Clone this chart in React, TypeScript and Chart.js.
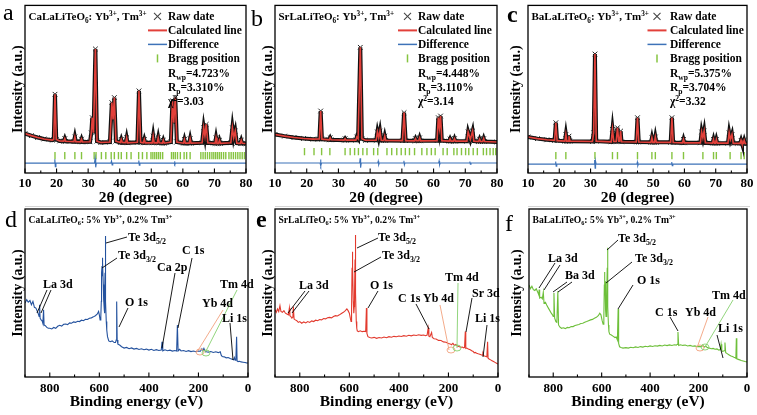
import React, { useEffect, useRef } from 'react';
import { Chart, registerables } from 'chart.js';

Chart.register(...registerables);

const W = 757;
const H = 415;
const SERIF = '"Liberation Serif", "Times New Roman", Times, serif';
const AXH = 28;

const RED = '#e2403a';
const BLUE = '#3d72b8';
const GREEN = '#86c440';
const XPS_BLUE = '#24529e';
const XPS_RED = '#e23a2e';
const XPS_GREEN = '#6dbf3a';
const ORANGE = '#f2a27e';
const LGREEN = '#86d06e';

// ---------------- XRD data (2θ, intensity in % of panel height) ----------------
const xrdMajorTicks = [10, 20, 30, 40, 50, 60, 70, 80];
const xrdMinorTicks = [15, 25, 35, 45, 55, 65, 75];

const aPattern = [[10,23.5],[12,22.3],[14,21.2],[16,20.3],[18.6,19.6],[19.1,20],[19.5,47],[19.9,20],[21,19.1],[22.3,19],[22.6,20.5],[22.9,18.9],[25.5,18.7],[25.8,21.5],[26.1,18.7],[27.6,18.6],[27.9,20.2],[28.2,18.5],[30.6,18.6],[31.0,24],[31.3,33],[31.7,24],[32.3,74],[32.8,19],[34,18.2],[36.9,18.5],[37.5,42],[37.9,32],[38.3,45],[38.8,19],[40.2,18.2],[40.5,20],[40.8,18.2],[41.9,18.1],[42.2,21],[42.5,18],[45.6,18.3],[46.1,49],[46.6,18.3],[47.5,18],[47.8,20],[48.1,18],[50.3,18],[50.6,22],[50.9,18],[51.9,18],[52.2,21],[52.5,18],[53.5,17.8],[53.8,19.5],[54.1,17.8],[56.2,18.5],[56.7,43],[57.1,30],[57.6,45],[58.1,18.5],[60.2,17.8],[60.5,20],[60.8,17.8],[62,17.8],[62.3,20.5],[62.6,17.8],[66.1,18],[66.6,27],[67.0,22],[67.4,29],[67.9,18],[70.2,17.7],[70.5,21],[70.8,17.7],[71.3,17.7],[71.6,19.5],[71.9,17.7],[75.2,18],[75.7,27],[76.1,21],[76.6,25],[77.1,17.8],[78.2,17.7],[78.5,19.5],[78.8,17.7],[80,17.6]];
const aDifference = [[10,5.9],[19.3,5.9],[19.45,8.2],[19.6,3.8],[19.8,5.9],[32.0,5.9],[32.2,8.6],[32.4,3.4],[32.6,5.9],[37.2,5.9],[37.4,7.2],[37.6,4.8],[37.8,5.9],[45.9,5.9],[46.05,7.4],[46.2,4.6],[46.4,5.9],[57.2,5.9],[57.35,7],[57.5,5],[57.7,5.9],[80,5.9]];
const aBragg = [19.5,22.6,25.8,27.9,31.9,32.5,34.2,35.6,37.3,38.3,39.6,40.5,42.2,43.6,46.0,47.2,48.6,49.9,50.5,51.1,51.7,52.3,52.9,53.6,56.4,57.0,57.6,58.3,59.2,60.4,61.2,62.3,65.7,66.4,67.1,67.8,68.5,69.2,69.8,70.4,71.0,71.6,72.2,72.9,73.6,74.6,75.3,76.0,76.7,77.4,78.1,78.8,79.5];
const aStats = ['R_{wp}=4.723%', 'R_{p}=3.310%', 'χ^{2}=3.03'];

const bPattern = [[10,23],[13,22],[16,21.2],[19,20.6],[22,20.2],[24.0,20.3],[24.4,37],[24.8,20.2],[27.1,19.8],[27.4,21],[27.7,19.8],[31.8,19.6],[32.1,20.5],[32.4,19.6],[35.5,19.6],[35.8,21.5],[36.2,20.5],[36.9,75],[37.4,20.5],[38.5,19.5],[41.9,19.5],[42.3,24.5],[42.7,21],[43.1,25],[43.5,19.5],[44.3,19.4],[44.6,22],[44.9,19.4],[50.2,19.3],[50.7,36],[51.2,19.3],[54.0,19.2],[54.3,20.5],[54.6,19.2],[55.3,19.2],[55.6,21],[55.9,19.2],[61.1,19.3],[61.5,33],[61.85,27],[62.2,34],[62.6,19.3],[64.9,19],[65.2,20.3],[65.5,19],[66.3,19],[66.6,20.5],[66.9,19],[70.5,19],[70.9,24.5],[71.6,20],[72.3,25],[72.7,19],[74.2,18.8],[74.5,20.2],[74.8,18.8],[75.5,18.8],[75.8,20.5],[76.1,18.8],[80,18.5]];
const bDifference = [[10,6],[24.2,6],[24.35,8],[24.5,4.2],[24.7,6],[36.7,6],[36.85,8.8],[37.0,3.2],[37.2,6],[42.4,6],[42.55,7],[42.7,5],[42.9,6],[50.5,6],[50.65,7.3],[50.8,4.8],[51.0,6],[61.6,6],[61.75,7.2],[61.9,4.8],[62.1,6],[71.3,6],[71.45,6.8],[71.6,5.2],[71.8,6],[80,6]];
const bBragg = [19.3,22.3,24.7,27.3,32.1,33.7,35.1,36.3,37.7,39.0,41.1,42.4,45.3,46.8,48.4,49.8,51.1,52.4,54.0,56.3,57.9,59.3,60.5,63.0,64.3,66.4,67.4,68.8,70.1,71.1,72.5,73.8,75.7,76.7,77.8,78.8,79.6];
const bStats = ['R_{wp}=4.448%', 'R_{p}=3.110%', 'χ^{2}=3.14'];

const cPattern = [[10,21.5],[13,20.5],[16,19.8],[18.5,19.5],[18.9,30],[19.3,19.3],[21.8,19],[22.1,23],[22.4,19],[22.8,19],[23.1,22],[23.4,19],[30.6,18.8],[31.0,24],[31.4,71],[31.8,19],[36.6,18.6],[37.0,26],[37.4,18.8],[38.2,18.8],[38.6,27],[39.0,19],[39.3,19],[39.6,25],[39.9,18.6],[44.6,18.5],[45.0,33],[45.4,18.5],[49.3,18.3],[49.6,21],[49.9,18.3],[50.4,18.3],[50.7,21.5],[51.0,18.3],[55.6,18.3],[56.0,33],[56.4,18.2],[59.4,18],[59.7,20],[60.0,18],[65.1,18],[65.5,24.5],[65.9,21],[66.3,25],[66.7,18],[69.0,17.8],[69.3,20],[69.6,17.8],[69.9,17.8],[70.2,20],[70.5,17.8],[73.9,17.8],[74.3,24],[74.7,20],[75.2,23],[75.6,17.7],[77.8,17.7],[78.1,19.5],[78.4,17.6],[78.8,17.6],[79.1,19.5],[79.4,17.6],[80,17.5]];
const cDifference = [[10,5.3],[18.7,5.3],[18.85,6.8],[19.0,4],[19.2,5.3],[31.1,5.3],[31.3,7.8],[31.45,2.8],[31.6,7],[31.8,5.3],[44.8,5.3],[44.95,6.5],[45.1,4.3],[45.3,5.3],[55.8,5.3],[55.95,6.5],[56.1,4.3],[56.3,5.3],[80,5.3]];
const cBragg = [18.9,22.1,31.4,37.0,38.6,45.0,49.6,50.7,56.0,59.7,65.9,69.3,70.2,74.6,78.1,79.1];
const cStats = ['R_{wp}=5.375%', 'R_{p}=3.704%', 'χ^{2}=3.32'];

const xrdLegendLabels = ['Raw date', 'Calculated line', 'Difference', 'Bragg position'];

// ---------------- XPS data (binding energy eV, intensity in % of panel height) ----------------
const xpsMajorTicks = [0, 200, 400, 600, 800];
const xpsMinorTicks = [100, 300, 500, 700, 900];

const dSpectrum = [[900,44],[893,46],[887,44.5],[880,45.5],[874,43],[868,45],[862,41.5],[856,41],[850,39],[846,37.5],[843,36],[841,43],[839,35],[835,34],[831,33.5],[828,32],[825,40],[823,31],[818,30.5],[812,29.5],[806,29],[800,29],[792,28.6],[784,29.5],[776,29],[768,30.2],[760,30.8],[752,30.3],[744,31.4],[736,31.5],[728,31.2],[720,32.2],[712,32],[704,32.8],[696,32.5],[688,33.2],[680,33],[672,33.8],[664,33.5],[656,34.3],[648,34.2],[640,35],[632,35.2],[624,35.8],[616,36.5],[608,37.5],[603,39],[600,37],[597,34],[594,36],[592,45],[591,62],[589,66],[588,71],[587,60],[586,68],[584,55],[583,50],[582,46],[580,40],[579,38],[578,50],[577,62],[576,84],[575,58],[574,45],[572,33],[570,28],[567,24],[562,21.5],[556,21],[548,21.5],[540,20.5],[535,20.5],[532,22],[530,45],[528,22],[525,19.5],[518,19],[510,18],[500,17.2],[490,17.6],[480,16.8],[470,17.3],[460,16.6],[450,17],[440,16.4],[430,16.8],[420,16.2],[410,16.6],[400,16],[390,16.5],[380,15.8],[370,16.3],[360,15.8],[350,16],[347,21],[344,15.6],[335,16.2],[325,15.6],[315,16],[305,15.4],[295,15.8],[288,15.5],[285,31],[282,15.5],[276,16.5],[270,15.5],[260,15.8],[250,15.2],[240,15.7],[230,15.1],[220,15.5],[210,15],[200,15.4],[192,15.3],[186,16.8],[182,15.8],[178,17],[174,15.5],[168,15],[160,14.8],[150,15.2],[140,14.6],[130,15],[120,14.5],[112,15],[108,13],[104,12.2],[96,12],[88,11.4],[80,11.6],[72,11],[64,10.6],[58,10.2],[55,11.5],[52,10],[49,10.2],[46,24],[44,9.6],[40,9.2],[34,9.4],[28,9],[20,8.8],[12,8.6],[6,8.4],[0,8.3]];

const eSpectrum = [[900,40],[895,38.5],[890,40.5],[885,39],[880,42.5],[876,39],[870,38.5],[864,39.5],[858,38],[852,37.5],[846,37],[842,41],[840,36.5],[836,36],[832,35],[828,35.5],[826,42],[823,34.5],[818,34],[812,33.5],[806,32.5],[800,33],[792,32],[784,32.8],[776,32.2],[768,33],[760,32.5],[752,33.4],[744,33],[736,33.8],[728,33.5],[720,34.2],[712,34],[704,34.8],[696,34.6],[688,35.3],[680,35.5],[672,35.2],[664,36],[656,36.5],[648,36.3],[640,37],[632,37.8],[624,38.5],[616,39.5],[610,40.5],[605,39.5],[600,38],[596,35],[593,33],[591,40],[589,65],[588,74.5],[587,58],[586,66],[584,45],[582,38],[580,42],[579,50],[577,70],[576,84.5],[575,62],[574,50],[572,33],[570,29],[568,27.5],[563,27],[556,27.5],[548,27],[540,27.2],[534,27],[531,41],[529,26],[525,24],[518,23.5],[510,23.2],[500,23.6],[490,23],[480,23.5],[470,23.2],[460,23.8],[450,23.4],[440,24],[430,23.7],[420,24.2],[410,24],[400,24.4],[390,24.1],[380,24.6],[370,24.3],[360,24.8],[350,24.5],[340,25],[330,24.7],[320,25.1],[310,24.8],[300,25],[292,24.6],[286,25],[282,29],[279,24.3],[275,24],[268,26.5],[265,23.5],[258,22.8],[250,22.6],[240,21.8],[230,21.7],[220,20.9],[210,20.7],[200,19.9],[193,19.7],[188,19.2],[182,20],[176,18.8],[170,19.4],[164,18.4],[158,18.2],[150,17.7],[144,17.8],[138,17.3],[135,17.6],[132,27],[130,17],[126,17.2],[120,16.6],[112,16.2],[106,15.6],[100,15.2],[96,14.4],[92,14.6],[86,14.1],[80,13.8],[74,13.6],[68,13.2],[64,13],[61,14],[58,12.7],[52,12.4],[48,12.2],[45,12],[42,21],[40,11.2],[36,10.7],[30,10.2],[24,9.7],[18,9.2],[12,8.7],[6,8.2],[0,7.7]];

const fSpectrum = [[900,54.8],[894,52.5],[888,54],[882,52],[876,51.5],[870,52.5],[864,50.5],[860,49],[858,52],[856,47],[850,47.5],[845,46.5],[841,50.5],[838,44],[832,44.5],[826,42.5],[820,41],[814,39.5],[808,38],[803,37],[800,36],[797,50],[794,35],[789,33],[785,32.5],[781,51],[778,31],[773,29.8],[766,29],[758,29.3],[750,28.8],[742,29.5],[734,29.3],[726,30],[718,30],[710,30.6],[702,31],[694,31.3],[686,31.8],[678,32],[670,32.6],[662,33],[654,33.5],[646,34],[638,34.3],[630,35],[622,35.5],[614,36.5],[608,38],[603,37],[598,33.5],[594,31.5],[591,36],[589,55],[588,62.5],[587,50],[586,57],[584,40],[582,36],[580,40],[579,48],[577,65],[576,77],[575,55],[574,42],[572,31],[570,27],[567,25.5],[560,25],[552,24.2],[545,23.5],[540,23.8],[535,22],[532,40.5],[530,20],[526,18],[520,17.5],[512,17.2],[500,17.5],[490,17.2],[480,17.7],[470,17.4],[460,17.9],[450,17.6],[440,18.1],[430,17.8],[420,18.3],[410,18],[400,18.5],[390,18.2],[380,18.6],[370,18.4],[360,18.8],[350,18.5],[340,19],[330,18.7],[320,19.1],[310,18.8],[300,19.2],[292,19],[288,19.4],[285,26.8],[282,18.8],[275,19.2],[265,18.8],[255,19],[245,18.5],[235,18.8],[225,18.3],[215,18.5],[205,18],[195,18.2],[188,18],[182,18.8],[176,17.8],[170,18.3],[164,17.5],[156,17.2],[148,16.8],[140,17],[132,16.5],[124,16.7],[116,16],[110,16.3],[107,19.5],[104,15.5],[100,15.3],[94,15.6],[91,20.5],[88,14.5],[84,14.2],[78,13.5],[72,13],[66,12.5],[60,12.2],[54,11.8],[49,11.5],[46,11.2],[44,23],[42,10.8],[36,10.5],[30,10.2],[24,9.8],[16,9.5],[8,9.2],[0,9]];

// ---------------- XPS annotations (layout, px relative to plot area) ----------------
const dNotes = [
  { text: 'Te 3d_{5/2}', x: 103, y: 28 },
  { text: 'Te 3d_{3/2}', x: 93, y: 46 },
  { text: 'C 1s', x: 157, y: 41 },
  { text: 'Ca 2p', x: 132, y: 58 },
  { text: 'La 3d', x: 18, y: 75 },
  { text: 'O 1s', x: 100, y: 93 },
  { text: 'Yb 4d', x: 177, y: 94 },
  { text: 'Tm 4d', x: 195, y: 75 },
  { text: 'Li 1s', x: 197, y: 109 },
];
const dLeaders = [
  [81, 34, 102, 28, '#000'], [77, 59, 92, 49, '#000'], [153, 119, 167, 49, '#000'], [137, 139, 150, 64, '#000'],
  [12, 104, 22, 81, '#000'], [16, 104, 26, 81, '#000'], [94, 118, 103, 99, '#000'],
  [172, 143, 198, 101, ORANGE], [180, 144, 212, 81, LGREEN], [208, 151, 205, 114, '#000'],
];
const dRings = [[175, 143, ORANGE], [181, 144, LGREEN]];

const eNotes = [
  { text: 'Te 3d_{5/2}', x: 103, y: 28 },
  { text: 'Te 3d_{3/2}', x: 107, y: 46 },
  { text: 'La 3d', x: 24, y: 76 },
  { text: 'O 1s', x: 95, y: 76 },
  { text: 'C 1s', x: 123, y: 89 },
  { text: 'Yb 4d', x: 148, y: 89 },
  { text: 'Tm 4d', x: 170, y: 68 },
  { text: 'Sr 3d', x: 197, y: 84 },
  { text: 'Li 1s', x: 200, y: 109 },
];
const eLeaders = [
  [82, 39, 103, 29, '#000'], [79, 63, 106, 48, '#000'], [13, 104, 30, 82, '#000'], [17, 104, 34, 82, '#000'],
  [93, 99, 103, 82, '#000'], [154, 120, 141, 95, '#000'], [174, 141, 165, 96, ORANGE], [182, 139, 183, 74, LGREEN],
  [191, 123, 197, 89, '#000'], [208, 148, 212, 116, '#000'],
];
const eRings = [[176, 141, ORANGE], [182, 139, LGREEN]];

const fNotes = [
  { text: 'Te 3d_{5/2}', x: 89, y: 29 },
  { text: 'Te 3d_{3/2}', x: 106, y: 49 },
  { text: 'La 3d', x: 19, y: 49 },
  { text: 'Ba 3d', x: 36, y: 66 },
  { text: 'O 1s', x: 108, y: 71 },
  { text: 'C 1s', x: 126, y: 103 },
  { text: 'Yb 4d', x: 156, y: 103 },
  { text: 'Tm 4d', x: 183, y: 86 },
  { text: 'Li 1s', x: 189, y: 119 },
];
const fLeaders = [
  [78, 41, 89, 31, '#000'], [77, 74, 103, 53, '#000'], [10, 79, 26, 54, '#000'], [15, 81, 31, 56, '#000'],
  [24, 83, 38, 73, '#000'], [29, 83, 43, 73, '#000'], [89, 100, 104, 76, '#000'], [149, 122, 141, 108, '#000'],
  [169, 136, 179, 108, ORANGE], [176, 138, 204, 91, LGREEN], [194, 149, 188, 126, '#000'],
];
const fRings = [[171, 139, ORANGE], [176, 138, LGREEN]];

// ---------------- panels ----------------
type Panel = any;

const PANELS: Panel[] = [
  { kind: 'xrd', letter: 'a', letterBold: false, lx: 3, ly: 20, box: [25, 4, 246, 173], ylabX: 18.5,
    title: 'CaLaLiTeO_{6}: Yb^{3+}, Tm^{3+}', pattern: aPattern, diff: aDifference, bragg: aBragg, braggLevel: 10.4,
    stats: aStats, legSym: 132.5, legText: 143 },
  { kind: 'xrd', letter: 'b', letterBold: false, lx: 251, ly: 26, box: [275, 4, 497, 173], ylabX: 268.5,
    title: 'SrLaLiTeO_{6}: Yb^{3+}, Tm^{3+}', pattern: bPattern, diff: bDifference, bragg: bBragg, braggLevel: 12.7,
    stats: bStats, legSym: 132.5, legText: 143 },
  { kind: 'xrd', letter: 'c', letterBold: true, lx: 507, ly: 22, box: [528, 4, 747, 173], ylabX: 516,
    title: 'BaLaLiTeO_{6}: Yb^{3+}, Tm^{3+}', pattern: cPattern, diff: cDifference, bragg: cBragg, braggLevel: 10.4,
    stats: cStats, legSym: 129, legText: 142 },
  { kind: 'xps', letter: 'd', letterBold: false, lx: 5, ly: 227, box: [25, 209, 248, 377], ylabX: 18,
    title: 'CaLaLiTeO_{6}: 5% Yb^{3+}, 0.2% Tm^{3+}', spectrum: dSpectrum, color: XPS_BLUE,
    notes: dNotes, leaders: dLeaders, rings: dRings },
  { kind: 'xps', letter: 'e', letterBold: true, lx: 256, ly: 227, box: [275, 209, 498, 377], ylabX: 268.5,
    title: 'SrLaLiTeO_{6}: 5% Yb^{3+}, 0.2% Tm^{3+}', spectrum: eSpectrum, color: XPS_RED,
    notes: eNotes, leaders: eLeaders, rings: eRings },
  { kind: 'xps', letter: 'f', letterBold: false, lx: 505, ly: 231, box: [529, 209, 747, 377], ylabX: 517.5,
    title: 'BaLaLiTeO_{6}: 5% Yb^{3+}, 0.2% Tm^{3+}', spectrum: fSpectrum, color: XPS_GREEN,
    notes: fNotes, leaders: fLeaders, rings: fRings },
];

// ---------------- text helpers ----------------
function fnt(size: number, weight = 'bold') {
  return `${weight} ${size}px ${SERIF}`;
}

function parseRich(s: string) {
  const out: { t: string; m: number }[] = [];
  let buf = '';
  let i = 0;
  while (i < s.length) {
    const c = s[i];
    if ((c === '_' || c === '^') && s[i + 1] === '{') {
      if (buf) { out.push({ t: buf, m: 0 }); buf = ''; }
      const j = s.indexOf('}', i);
      out.push({ t: s.slice(i + 2, j), m: c === '_' ? 1 : 2 });
      i = j + 1;
    } else {
      buf += c;
      i++;
    }
  }
  if (buf) out.push({ t: buf, m: 0 });
  return out;
}

function drawRich(ctx: CanvasRenderingContext2D, s: string, x: number, yMid: number, size: number, align = 'left') {
  const segs = parseRich(s);
  const sz = (m: number) => (m === 0 ? size : size * 0.66);
  let w = 0;
  for (const g of segs) { ctx.font = fnt(sz(g.m)); w += ctx.measureText(g.t).width; }
  let x0 = align === 'center' ? x - w / 2 : x;
  const base = yMid + size * 0.34;
  ctx.textAlign = 'left';
  ctx.textBaseline = 'alphabetic';
  for (const g of segs) {
    ctx.font = fnt(sz(g.m));
    const dy = g.m === 1 ? size * 0.22 : g.m === 2 ? -size * 0.4 : 0;
    ctx.fillText(g.t, x0, base + dy);
    x0 += ctx.measureText(g.t).width;
  }
}

function seg(ctx: CanvasRenderingContext2D, x1: number, y1: number, x2: number, y2: number) {
  ctx.beginPath();
  ctx.moveTo(x1, y1);
  ctx.lineTo(x2, y2);
  ctx.stroke();
}

function decorPlugin(p: Panel) {
  const isXrd = p.kind === 'xrd';
  const majors = isXrd ? xrdMajorTicks : xpsMajorTicks;
  const minors = isXrd ? xrdMinorTicks : xpsMinorTicks;
  return {
    id: 'decor',
    afterDatasetsDraw(chart: any) {
      const ctx: CanvasRenderingContext2D = chart.ctx;
      const ca = chart.chartArea;
      const xs = chart.scales.x;
      ctx.save();
      ctx.fillStyle = '#000';
      ctx.strokeStyle = '#000';
      ctx.lineWidth = 1.3;
      ctx.strokeRect(ca.left, ca.top, ca.right - ca.left, ca.bottom - ca.top);
      ctx.lineWidth = 1.1;
      for (const v of majors) { const x = xs.getPixelForValue(v); seg(ctx, x, ca.bottom, x, ca.bottom - 4.5); }
      for (const v of minors) { const x = xs.getPixelForValue(v); seg(ctx, x, ca.bottom, x, ca.bottom - 2.5); }
      ctx.font = fnt(24, p.letterBold ? 'bold' : 'normal');
      ctx.textAlign = 'left';
      ctx.textBaseline = 'alphabetic';
      ctx.fillText(p.letter, p.lx, p.ly);
      drawRich(ctx, p.title, ca.left + 3.5, ca.top + 11, isXrd ? 11 : 9.6);
      ctx.save();
      ctx.translate(p.ylabX, (ca.top + ca.bottom) / 2);
      ctx.rotate(-Math.PI / 2);
      ctx.font = fnt(14);
      ctx.textAlign = 'center';
      ctx.textBaseline = 'middle';
      ctx.fillText('Intensity (a.u.)', 0, 0);
      ctx.restore();
      ctx.font = fnt(15.5);
      ctx.textAlign = 'center';
      ctx.textBaseline = 'middle';
      ctx.fillText(isXrd ? '2θ (degree)' : 'Binding energy (eV)', (ca.left + ca.right) / 2, ca.bottom + 24.5);

      if (isXrd) {
        ctx.strokeStyle = '#d4d4d4';
        ctx.lineWidth = 1;
        seg(ctx, ca.left, 206.5, ca.right + 3, 206.5);
        const sx = ca.left + p.legSym;
        const tx = ca.left + p.legText;
        const rows = [11, 25, 39, 53, 68, 82, 96].map((v) => ca.top + v);
        ctx.strokeStyle = '#444';
        ctx.lineWidth = 1.1;
        seg(ctx, sx - 3.5, rows[0] - 3.5, sx + 3.5, rows[0] + 3.5);
        seg(ctx, sx - 3.5, rows[0] + 3.5, sx + 3.5, rows[0] - 3.5);
        ctx.strokeStyle = RED;
        ctx.lineWidth = 2;
        seg(ctx, sx - 9.5, rows[1], sx + 9.5, rows[1]);
        ctx.strokeStyle = BLUE;
        ctx.lineWidth = 1.5;
        seg(ctx, sx - 9.5, rows[2], sx + 9.5, rows[2]);
        ctx.strokeStyle = GREEN;
        ctx.lineWidth = 1.5;
        seg(ctx, sx, rows[3] - 4, sx, rows[3] + 4);
        ctx.fillStyle = '#000';
        const texts = [...xrdLegendLabels, ...p.stats];
        texts.forEach((t: string, i: number) => drawRich(ctx, t, tx, rows[i], 11.5));
      } else {
        for (const l of p.leaders) {
          ctx.strokeStyle = l[4];
          ctx.lineWidth = 0.9;
          seg(ctx, ca.left + l[0], ca.top + l[1], ca.left + l[2], ca.top + l[3]);
        }
        for (const r of p.rings) {
          ctx.strokeStyle = r[2];
          ctx.lineWidth = 0.9;
          ctx.beginPath();
          ctx.ellipse(ca.left + r[0], ca.top + r[1], 4, 3, 0, 0, Math.PI * 2);
          ctx.stroke();
        }
        ctx.fillStyle = '#000';
        for (const n of p.notes) drawRich(ctx, n.text, ca.left + n.x, ca.top + n.y, 12);
      }
      ctx.restore();
    },
  };
}

function buildConfig(p: Panel): any {
  const isXrd = p.kind === 'xrd';
  const toXY = (arr: number[][]) => arr.map(([x, y]) => ({ x, y }));
  const datasets = isXrd
    ? [
        { data: toXY(p.pattern), showLine: true, borderColor: RED, borderWidth: 1.6, pointRadius: 0, clip: 0 },
        { data: toXY(p.pattern), showLine: true, borderColor: '#111', borderWidth: 4, pointRadius: 3.3,
          pointStyle: 'crossRot', pointBorderColor: '#222', pointBorderWidth: 1, pointBackgroundColor: 'rgba(0,0,0,0)', clip: 0 },
        { data: toXY(p.diff), showLine: true, borderColor: BLUE, borderWidth: 1.1, pointRadius: 0, clip: 0 },
        { data: p.bragg.map((x: number) => ({ x, y: p.braggLevel })), showLine: false, pointStyle: 'line',
          pointRotation: 90, pointRadius: 3.6, pointBorderColor: GREEN, pointBorderWidth: 1.4, clip: 0 },
      ]
    : [
        { data: toXY(p.spectrum), showLine: true, borderColor: p.color, borderWidth: 1.1, pointRadius: 0, clip: 0 },
      ];
  const [L, T, R, B] = p.box;
  const majors = isXrd ? xrdMajorTicks : xpsMajorTicks;
  return {
    type: 'scatter',
    data: { datasets },
    options: {
      responsive: false,
      animation: false,
      devicePixelRatio: 1,
      events: [],
      layout: { padding: { left: L, top: T, right: W - R, bottom: H - B - AXH } },
      plugins: { legend: { display: false }, tooltip: { enabled: false } },
      scales: {
        x: {
          type: 'linear',
          min: isXrd ? 10 : 0,
          max: isXrd ? 80 : 900,
          reverse: !isXrd,
          afterBuildTicks: (axis: any) => { axis.ticks = majors.map((v) => ({ value: v })); },
          afterFit: (axis: any) => { axis.height = AXH; },
          grid: { display: false, drawTicks: false },
          border: { display: false },
          ticks: {
            autoSkip: false,
            maxRotation: 0,
            padding: isXrd ? 3 : 4,
            color: '#000',
            font: { family: SERIF, size: 13, weight: 'bold' },
          },
        },
        y: { display: false, min: 0, max: 100 },
      },
    },
    plugins: [decorPlugin(p)],
  };
}

export default function App() {
  const refs = useRef<(HTMLCanvasElement | null)[]>([]);
  useEffect(() => {
    const charts = PANELS.map((p, i) => new Chart(refs.current[i] as HTMLCanvasElement, buildConfig(p)));
    return () => charts.forEach((c) => c.destroy());
  }, []);
  return (
    <div style={{ position: 'fixed', left: 0, top: 0, width: W, height: H, background: '#fff', overflow: 'hidden' }}>
      {PANELS.map((p, i) => (
        <canvas
          key={p.letter}
          ref={(el) => { refs.current[i] = el; }}
          width={W}
          height={H}
          style={{ position: 'absolute', left: 0, top: 0, width: W, height: H }}
        />
      ))}
    </div>
  );
}
